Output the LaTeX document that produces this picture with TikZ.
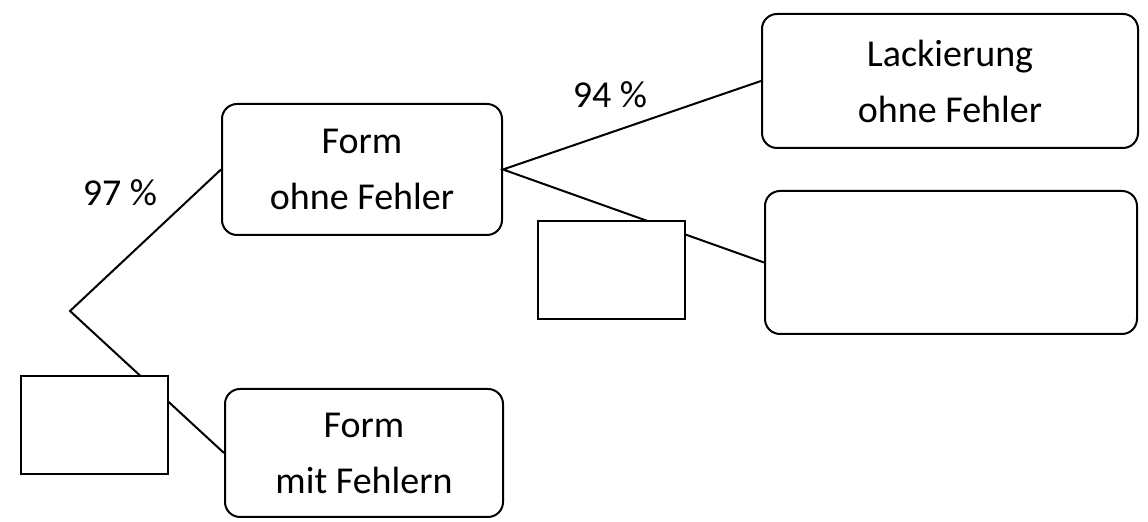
\documentclass[tikz,border=0pt]{standalone}
\usepackage{fontspec}
\setmainfont{Carlito}
\usetikzlibrary{positioning}

\begin{document}
\begin{tikzpicture}[x=0.5pt, y=-0.5pt, line width=1pt,
    box/.style={draw, rounded corners=7.5pt, align=center, inner sep=0pt,
      font=\fontsize{19}{28}\selectfont},
    blank/.style={draw, fill=white, inner sep=0pt, minimum width=73.5pt, minimum height=49pt},
    prob/.style={font=\fontsize{19}{22}\selectfont}]
    \useasboundingbox (0,0) rectangle (1148,522);

    \coordinate (root) at (70, 311);
    \node[box, minimum width=140pt, minimum height=65.5pt] (formok) at (362, 169.5) {Form\\ohne Fehler};
    \node[box, minimum width=139pt, minimum height=64pt] (formbad) at (364, 453) {Form\\mit Fehlern};
    \node[box, minimum width=188pt, minimum height=67pt] (lackok) at (950, 81) {Lackierung\\ohne Fehler};
    \node[box, minimum width=186pt, minimum height=71.5pt] (lackbad) at (951, 262.5) {};

    \draw (formok.west) -- (root) -- (formbad.west);
    \draw (lackok.west) -- (formok.east) -- (lackbad.west);

    \node[blank] (pbad) at (94.5, 425.5) {};
    \node[blank] (plackbad) at (611.5, 270.5) {};

    \node[prob] (pok) at (120, 193) {97 \%};
    \node[prob] (plackok) at (610, 95) {94 \%};
\end{tikzpicture}
\end{document}
